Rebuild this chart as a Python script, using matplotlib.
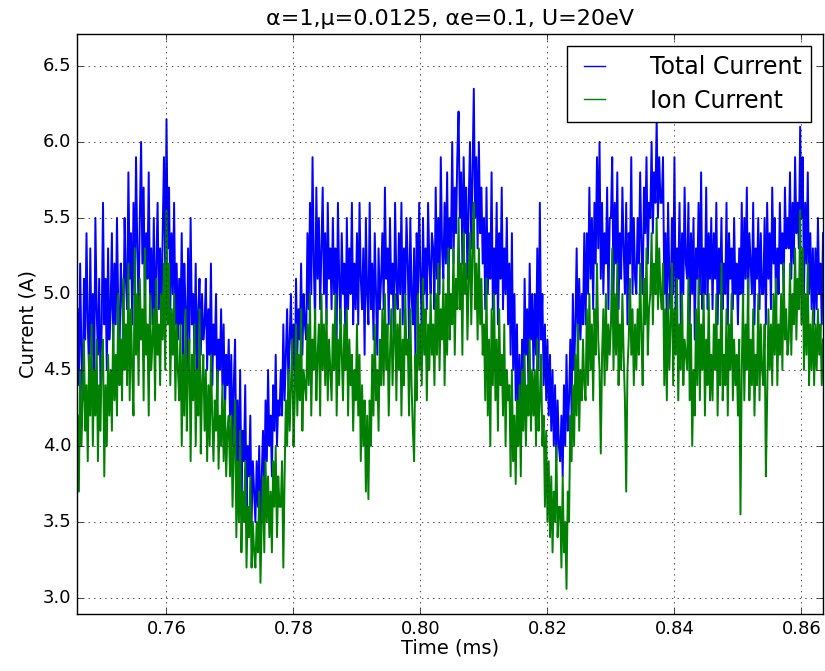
import numpy as np
import matplotlib
matplotlib.use("Agg")
import matplotlib.pyplot as plt

plt.style.use("classic")

# sampled every 0.0002 ms starting at 0.746 ms
t_start = 0.746
t_step = 0.0002

total_current = [
    4.9, 4.4, 5.2, 4.6, 4.3, 5.1, 4.7, 5.4, 4.8, 4.5, 5.3, 4.6, 5.0, 4.4, 5.5, 4.9, 4.6, 5.1, 4.4, 4.8,
    5.6, 4.8, 5.1, 4.5, 5.3, 4.7, 4.9, 5.4, 4.6, 5.2, 4.8, 5.5, 4.9, 4.6, 5.2, 5.0, 4.7, 5.5, 5.1, 4.9,
    5.8, 5.1, 5.4, 4.8, 5.6, 5.0, 5.9, 5.3, 4.9, 5.5, 6.0, 5.2, 5.7, 4.9, 5.4, 5.1, 5.8, 5.0, 5.3, 4.8,
    5.5, 4.7, 5.2, 5.6, 4.9, 5.3, 4.8, 5.4, 5.9, 5.1, 6.15, 5.3, 5.7, 4.9, 5.4, 5.0, 5.6, 4.8, 5.2, 4.7,
    5.1, 4.8, 5.4, 4.6, 5.2, 4.9, 4.5, 5.3, 4.7, 5.5, 4.8, 5.0, 4.6, 5.2, 4.4, 4.9, 5.1, 4.6, 5.0, 4.7,
    4.8, 5.1, 4.5, 4.9, 4.6, 5.2, 4.4, 4.8, 4.6, 5.0, 4.3, 4.7, 4.5, 4.9, 4.4, 4.8, 4.2, 4.6, 4.4, 4.7,
    4.2, 4.6, 4.0, 4.4, 4.7, 3.9, 4.3, 3.8, 4.5, 3.7, 4.1, 3.9, 4.4, 3.6, 4.0, 3.8, 4.2, 3.5, 3.9, 3.7,
    3.5, 3.9, 3.6, 4.0, 3.4, 3.8, 4.1, 3.7, 4.3, 3.9, 4.5, 4.0, 4.2, 3.8, 4.4, 4.1, 4.6, 4.0, 4.3, 4.2,
    4.5, 4.2, 4.8, 4.3, 4.6, 4.9, 4.4, 4.7, 5.0, 4.5, 4.8, 4.4, 5.1, 4.6, 4.9, 4.7, 5.2, 4.6, 5.0, 4.8,
    4.7, 5.4, 4.9, 5.6, 5.0, 5.9, 5.2, 4.8, 5.7, 5.1, 5.5, 4.9, 5.3, 5.7, 5.0, 5.4, 4.8, 5.6, 5.1, 5.3,
    4.9, 5.5, 5.0, 5.3, 4.7, 5.6, 5.1, 4.8, 5.4, 5.0, 5.2, 4.6, 5.5, 4.9, 5.3, 5.0, 5.6, 4.8, 5.2, 4.9,
    5.4, 4.8, 5.6, 5.1, 4.9, 5.3, 4.6, 5.5, 5.0, 4.8, 5.6, 4.9, 5.2, 4.7, 5.4, 5.0, 4.6, 5.3, 4.9, 5.1,
    5.4, 4.9, 5.7, 5.1, 5.3, 4.8, 5.5, 5.0, 5.2, 4.7, 5.6, 5.1, 4.9, 5.4, 5.0, 5.6, 4.8, 5.3, 5.0, 5.5,
    5.2, 4.7, 5.5, 5.0, 4.8, 5.3, 4.6, 5.4, 5.0, 5.6, 5.1, 4.8, 5.5, 5.0, 5.3, 4.9, 5.6, 5.2, 5.0, 5.4,
    5.3, 4.9, 5.7, 5.1, 5.5, 5.0, 5.9, 5.3, 5.1, 5.6, 5.2, 5.8, 5.0, 5.5, 5.3, 6.0, 5.2, 5.7, 5.4, 5.9,
    6.2, 5.5, 5.8, 5.2, 5.9, 5.4, 5.7, 5.1, 5.6, 6.0, 5.3, 5.8, 6.35, 5.5, 5.9, 5.3, 6.0, 5.4, 5.7, 5.2,
    5.5, 4.9, 5.7, 5.0, 5.4, 5.1, 5.8, 4.9, 5.3, 5.0, 5.6, 4.8, 5.4, 5.1, 5.7, 4.9, 5.3, 5.0, 5.5, 4.8,
    5.2, 4.6, 5.4, 4.5, 5.0, 4.3, 4.8, 4.1, 4.6, 4.0, 4.7, 4.3, 5.1, 4.6, 4.9, 4.4, 5.2, 4.7, 5.0, 4.5,
    5.0, 4.6, 5.3, 4.5, 5.6, 4.7, 5.0, 4.4, 4.8, 4.3, 4.7, 4.2, 4.6, 4.1, 4.5, 4.0, 4.4, 3.9, 4.3, 4.0,
    3.9, 4.2, 3.8, 4.4, 4.0, 4.6, 4.1, 4.3, 4.7, 4.2, 5.0, 4.5, 4.8, 5.3, 4.6, 5.1, 4.7, 5.0, 4.8, 5.4,
    4.8, 5.4, 5.0, 5.7, 5.1, 5.5, 4.9, 5.6, 5.2, 5.9, 5.3, 6.0, 5.1, 5.6, 5.0, 5.4, 5.2, 5.7, 4.9, 5.5,
    5.5, 5.9, 5.0, 5.6, 5.2, 5.8, 4.9, 5.4, 5.1, 5.7, 5.3, 5.0, 5.6, 4.8, 5.4, 5.2, 5.9, 5.0, 5.5, 5.1,
    5.0, 5.5, 5.2, 5.8, 5.3, 5.0, 5.7, 5.4, 5.9, 5.2, 5.6, 5.5, 6.0, 5.4, 5.8, 5.6, 6.15, 5.5, 5.9, 5.6,
    5.6, 5.9, 5.0, 5.4, 4.8, 5.6, 5.1, 4.9, 5.5, 5.0, 5.9, 4.9, 5.3, 5.1, 5.6, 4.8, 5.4, 5.0, 5.7, 5.2,
    5.1, 5.6, 4.8, 5.4, 5.0, 5.5, 4.7, 5.3, 5.1, 5.6, 5.0, 5.8, 4.9, 5.3, 5.0, 5.7, 4.9, 5.4, 5.1, 5.5,
    4.9, 5.4, 5.1, 5.6, 4.8, 5.3, 5.0, 5.5, 4.9, 5.2, 5.0, 5.6, 4.8, 5.4, 5.1, 5.3, 4.9, 5.5, 5.0, 5.2,
    4.8, 5.3, 5.0, 5.6, 4.9, 5.5, 5.1, 5.7, 4.9, 5.4, 5.2, 5.0, 5.6, 4.8, 5.3, 5.1, 5.5, 4.9, 5.4, 5.0,
    5.0, 5.5, 4.8, 5.6, 5.1, 5.4, 4.9, 5.7, 5.2, 5.5, 4.9, 5.3, 5.0, 5.6, 5.2, 5.4, 5.0, 5.7, 5.3, 5.5,
    5.3, 5.8, 5.1, 5.6, 5.2, 5.9, 5.4, 5.6, 5.3, 6.1, 5.5, 5.9, 5.0, 5.6, 5.2, 5.8, 5.0, 5.4, 4.9, 5.3,
    4.8, 5.3, 4.9, 5.5, 5.0, 5.2, 4.8, 5.4,
]

ion_current = [
    4.2, 3.7, 4.5, 4.0, 4.3, 4.7, 4.1, 4.4, 3.9, 4.6, 4.2, 4.8, 4.0, 4.5, 4.2, 4.7, 3.9, 4.4, 4.1, 4.6,
    4.7, 3.8, 4.4, 4.0, 4.6, 4.2, 4.5, 4.1, 4.8, 4.3, 4.6, 4.2, 5.0, 4.4, 4.7, 4.3, 5.1, 4.5, 4.8, 4.4,
    5.2, 4.3, 4.9, 4.5, 4.2, 5.3, 4.6, 5.0, 4.4, 5.1, 4.7, 4.9, 4.3, 5.3, 4.6, 4.8, 4.2, 5.0, 4.5, 4.7,
    4.9, 4.3, 5.1, 4.6, 4.8, 4.4, 5.0, 4.7, 5.2, 4.5, 5.55, 4.8, 5.2, 4.4, 4.9, 4.6, 5.0, 4.3, 4.8, 4.5,
    4.3, 4.8, 4.0, 4.6, 4.2, 4.9, 4.1, 4.5, 4.7, 3.9, 4.6, 4.3, 4.8, 4.0, 4.5, 4.2, 4.9, 3.95, 4.4, 4.6,
    4.1, 4.5, 3.9, 4.4, 4.0, 4.6, 4.2, 3.9, 4.3, 4.1, 4.5, 3.85, 4.2, 4.0, 4.4, 3.9, 4.3, 3.8, 4.1, 4.2,
    3.8, 4.2, 3.6, 4.0, 4.3, 3.4, 3.9, 3.5, 4.1, 3.3, 3.7, 3.5, 3.9, 3.2, 3.6, 3.4, 3.8, 3.2, 3.5, 3.3,
    3.2, 3.5, 3.3, 3.7, 3.1, 3.5, 3.8, 3.3, 3.9, 3.5, 3.8, 3.4, 3.7, 3.3, 3.9, 3.6, 4.0, 3.4, 3.8, 3.6,
    3.6, 3.9, 3.2, 3.8, 4.3, 4.0, 4.5, 4.1, 4.4, 4.7, 4.0, 4.3, 4.8, 4.2, 4.6, 4.3, 4.9, 4.1, 4.5, 4.4,
    4.3, 4.8, 4.4, 5.0, 4.2, 4.7, 4.5, 4.9, 4.3, 4.6, 4.8, 4.2, 5.0, 4.5, 4.8, 4.4, 4.9, 4.3, 4.7, 4.5,
    4.3, 4.8, 4.5, 5.0, 4.2, 4.7, 4.4, 4.9, 4.6, 4.3, 4.8, 4.5, 4.9, 4.2, 4.7, 4.4, 4.6, 4.1, 4.5, 4.3,
    4.8, 4.2, 4.6, 3.9, 4.4, 4.0, 4.3, 3.7, 4.2, 3.65, 4.3, 4.0, 4.6, 4.2, 4.8, 4.3, 4.5, 4.1, 4.7, 4.4,
    4.9, 4.4, 5.0, 4.5, 4.8, 4.2, 4.6, 4.9, 4.4, 4.7, 5.0, 4.3, 4.8, 4.5, 4.9, 4.2, 4.7, 4.4, 5.0, 4.6,
    4.7, 4.2, 4.9, 4.4, 4.1, 3.9, 4.6, 4.3, 5.0, 4.5, 4.8, 4.4, 5.1, 4.6, 4.9, 4.3, 4.8, 4.5, 5.0, 4.6,
    4.8, 4.4, 5.0, 4.6, 5.2, 4.5, 4.9, 4.7, 5.1, 4.4, 5.0, 4.6, 5.3, 4.7, 5.0, 4.8, 5.3, 4.6, 5.1, 4.9,
    5.5, 4.9, 5.2, 4.6, 5.4, 5.0, 5.2, 4.7, 5.1, 5.4, 4.8, 5.3, 5.6, 4.9, 5.2, 4.7, 5.3, 4.8, 5.1, 4.6,
    4.8, 4.3, 5.1, 4.2, 4.7, 4.0, 4.9, 4.4, 5.0, 4.3, 4.7, 4.1, 4.9, 4.4, 4.6, 4.2, 4.8, 4.0, 4.5, 4.3,
    4.4, 3.8, 4.5, 3.9, 4.2, 3.75, 4.3, 4.0, 4.4, 3.8, 4.5, 4.1, 4.6, 4.0, 4.4, 4.2, 4.7, 4.1, 4.5, 4.2,
    4.5, 4.0, 4.7, 4.1, 4.3, 4.6, 4.0, 4.2, 3.6, 4.1, 3.5, 3.9, 3.4, 3.8, 3.3, 3.7, 3.5, 4.0, 3.4, 3.6,
    3.6, 3.2, 3.8, 3.3, 3.5, 3.06, 3.7, 3.5, 4.2, 3.9, 4.4, 4.0, 4.6, 4.2, 4.8, 4.1, 4.5, 4.3, 4.7, 4.4,
    4.3, 4.9, 4.4, 5.0, 4.5, 4.8, 4.3, 4.9, 4.6, 5.2, 4.7, 4.5, 3.95, 4.6, 4.9, 4.4, 5.0, 4.5, 4.8, 4.6,
    4.8, 5.3, 4.5, 5.0, 4.6, 5.2, 4.4, 4.8, 4.5, 5.0, 4.6, 4.3, 3.7, 4.5, 4.7, 5.1, 4.6, 4.9, 4.4, 4.8,
    4.5, 4.9, 4.6, 5.2, 4.7, 4.4, 5.1, 4.8, 5.3, 4.6, 4.9, 5.0, 5.4, 4.8, 5.2, 5.0, 5.5, 4.9, 5.3, 5.0,
    4.9, 5.2, 4.4, 4.9, 4.3, 5.0, 4.5, 4.8, 5.2, 4.4, 4.9, 4.6, 5.1, 4.3, 4.8, 4.5, 5.0, 4.4, 4.7, 4.6,
    4.5, 5.1, 4.3, 4.8, 4.0, 4.5, 4.2, 4.9, 4.4, 5.1, 4.3, 4.8, 4.5, 5.0, 4.2, 4.7, 4.4, 5.0, 4.3, 4.6,
    4.3, 4.8, 4.5, 5.0, 4.2, 4.7, 4.4, 5.2, 4.3, 4.6, 4.4, 4.9, 4.2, 4.8, 4.5, 5.0, 4.3, 4.7, 4.4, 4.6,
    4.2, 4.7, 3.55, 4.5, 5.0, 4.3, 4.8, 4.5, 5.1, 4.3, 4.7, 4.4, 4.9, 4.2, 4.6, 4.4, 5.0, 4.3, 4.8, 4.5,
    4.4, 4.8, 3.8, 4.3, 4.9, 4.5, 4.8, 4.4, 5.0, 4.6, 5.1, 4.4, 4.8, 4.6, 5.0, 4.5, 5.2, 4.7, 4.9, 4.6,
    4.7, 5.2, 4.6, 5.0, 4.8, 5.3, 4.7, 5.1, 4.9, 5.55, 4.8, 5.3, 4.5, 5.0, 4.6, 5.2, 4.4, 4.8, 4.5, 4.9,
    4.4, 4.8, 4.5, 4.9, 4.6, 4.8, 4.4, 4.7,
]

time = t_start + t_step * np.arange(len(total_current))

fig = plt.figure(figsize=(8.25, 6.71), dpi=100, facecolor="white")
ax = fig.add_axes([0.0933, 0.085, 0.9043, 0.8643])

ax.plot(time, total_current, color="b", lw=1.4, label="Total Current")
ax.plot(time, ion_current, color="g", lw=1.4, label="Ion Current")

ax.set_xlim(0.7459, 0.8634)
ax.set_ylim(2.895, 6.71)
ax.set_xticks([0.76, 0.78, 0.80, 0.82, 0.84, 0.86])
ax.set_yticks([3.0, 3.5, 4.0, 4.5, 5.0, 5.5, 6.0, 6.5])
ax.xaxis.set_major_formatter(plt.FormatStrFormatter("%.2f"))
ax.yaxis.set_major_formatter(plt.FormatStrFormatter("%.1f"))
ax.tick_params(labelsize=13)
ax.grid(True, color="k", linestyle=":", lw=0.5)

ax.set_xlabel("Time (ms)", fontsize=14, labelpad=1)
ax.set_ylabel("Current (A)", fontsize=14, labelpad=4)
ax.set_title("α=1,μ=0.0125, αe=0.1, U=20eV", fontsize=16, y=1.003)

leg = ax.legend(loc="upper right", fontsize=17, borderaxespad=0.5,
                handlelength=1.5, handletextpad=1.6, labelspacing=0.4,
                borderpad=0.4)
leg.get_frame().set_linewidth(1.0)
for line in leg.get_lines():
    line.set_linewidth(1.0)

fig.savefig("out.png", dpi=100, facecolor="white")
